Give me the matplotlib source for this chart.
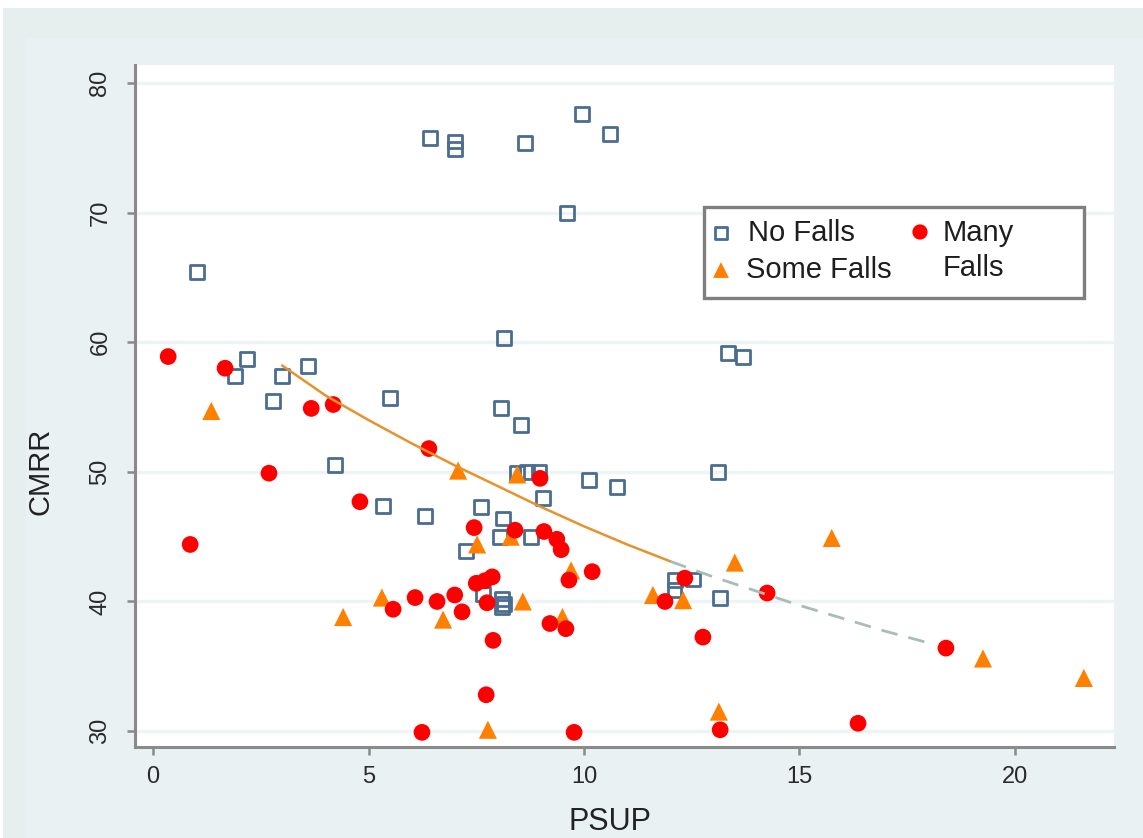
import matplotlib
matplotlib.use("Agg")
import matplotlib.pyplot as plt
from matplotlib.patches import Rectangle

# ---------------- data ----------------
no_falls_x = [1.02, 1.9, 2.18, 2.78, 3.0, 3.6, 4.22, 5.5, 5.34, 6.31, 6.43, 7.0, 7.0,
              7.26, 7.61, 8.64, 9.95, 10.6, 9.6, 8.14, 8.07, 8.54, 8.45, 8.68, 8.96,
              10.12, 10.77, 9.05, 8.12, 8.05, 8.77, 8.1, 8.15, 8.1, 7.65,
              12.11, 12.53, 12.1, 13.16, 13.11, 13.34, 13.69]
no_falls_y = [65.4, 57.4, 58.7, 55.5, 57.4, 58.2, 50.5, 55.7, 47.4, 46.6, 75.8, 75.5, 74.9,
              43.9, 47.3, 75.4, 77.6, 76.1, 70.0, 60.3, 54.9, 53.6, 49.9, 50.0, 50.0,
              49.4, 48.8, 48.0, 46.4, 45.0, 45.0, 40.2, 39.8, 39.6, 40.6,
              41.65, 41.7, 40.9, 40.25, 50.0, 59.2, 58.9]

some_falls_x = [1.35, 4.41, 5.31, 6.73, 7.08, 7.52, 7.77, 8.3, 8.45, 8.58, 9.5, 9.7,
                11.6, 12.3, 13.13, 13.5, 15.75, 19.26, 21.6]
some_falls_y = [54.7, 38.8, 40.3, 38.6, 50.1, 44.4, 30.1, 45.0, 49.8, 40.0, 38.8, 42.4,
                40.5, 40.1, 31.5, 43.0, 44.9, 35.6, 34.1]

many_falls_x = [0.35, 0.86, 1.67, 2.69, 3.67, 4.18, 4.8, 5.57, 6.08, 6.24, 6.40, 6.59,
                7.0, 7.17, 7.45, 7.5, 7.7, 7.87, 7.73, 7.75, 7.89, 8.40, 8.98, 9.07,
                9.21, 9.37, 9.47, 9.58, 9.65, 9.77, 10.19, 11.88, 12.34, 12.76, 13.16,
                14.25, 16.36, 18.4]
many_falls_y = [58.9, 44.4, 58.0, 49.9, 54.9, 55.2, 47.7, 39.4, 40.3, 29.9, 51.8, 40.0,
                40.5, 39.2, 45.7, 41.4, 41.6, 41.9, 32.8, 39.9, 37.0, 45.5, 49.5, 45.4,
                38.3, 44.8, 44.0, 37.9, 41.65, 29.9, 42.3, 40.0, 41.8, 37.25, 30.1,
                40.65, 30.6, 36.4]

# fitted curve
fit_solid_x = [3, 4, 5, 6, 7, 8, 9, 10, 11, 12]
fit_solid_y = [58.2, 55.9, 54.0, 52.2, 50.5, 48.9, 47.3, 45.8, 44.4, 43.1]
fit_dash_x = [12, 13, 14, 15, 16, 17, 18]
fit_dash_y = [43.1, 41.9, 40.8, 39.7, 38.7, 37.7, 36.8]

x_ticks = [0, 5, 10, 15, 20]
y_ticks = [30, 40, 50, 60, 70, 80]
legend_labels = ["No Falls", "Some Falls", "Many", "Falls"]

# ---------------- figure ----------------
W, H = 1143, 838
fig = plt.figure(figsize=(W / 100, H / 100), dpi=100, facecolor="white")

def fx(px):
    return px / W

def fy(py):
    return 1 - py / H

# background bands
fig.patches.append(Rectangle((fx(3), 0), 1 - fx(3), fy(8), transform=fig.transFigure,
                             facecolor="#e6efee", edgecolor="none", zorder=-3))
fig.patches.append(Rectangle((fx(26), 0), 1 - fx(26), fy(38), transform=fig.transFigure,
                             facecolor="#e9f1f2", edgecolor="none", zorder=-2))

L, R, T, B = 135, 1114, 65, 747
ax = fig.add_axes([fx(L), fy(B), fx(R) - fx(L), fy(T) - fy(B)])
ax.set_facecolor("white")
ax.set_xlim(-0.42, 22.3)
ax.set_ylim(28.77, 81.4)

for s in ["top", "right"]:
    ax.spines[s].set_visible(False)
for s in ["left", "bottom"]:
    ax.spines[s].set_color("#8a8a8a")
    ax.spines[s].set_linewidth(2.2)

def axx(px):
    return (px - L) / (R - L)

def axy(py):
    return (B - py) / (B - T)

ax.set_xticks(x_ticks)
ax.set_yticks(y_ticks)
tick_font = "Liberation Sans"
ax.set_xticklabels([str(v) for v in x_ticks], fontsize=17, family=tick_font, color="#2a2a2a")
ax.set_yticklabels([str(v) for v in y_ticks], fontsize=17, family=tick_font, color="#2a2a2a",
                   rotation=90, va="center")
ax.tick_params(axis="both", length=6, width=1.8, color="#8a8a8a")
ax.tick_params(axis="y", pad=11)
ax.tick_params(axis="x", pad=8)
ax.yaxis.grid(True, color="#eef4f5", linewidth=2.5)
ax.set_axisbelow(True)

ax.set_xlabel("PSUP", fontsize=22, family="Liberation Sans", color="#222222")
ax.xaxis.set_label_coords(axx(610), axy(807))
ax.set_ylabel("CMRR", fontsize=21, family="Liberation Sans", color="#222222")
ax.yaxis.set_label_coords(axx(54), axy(471))

sq_col = "#4a6d91"
tri_col = "#ff7f00"
red_col = "#ff0000"

ax.scatter(no_falls_x, no_falls_y, marker="s", s=100, facecolors="none",
           edgecolors=sq_col, linewidths=2.0, zorder=3)
ax.scatter(some_falls_x, some_falls_y, marker="^", s=170, color=tri_col,
           edgecolors="none", zorder=3)
ax.scatter(many_falls_x, many_falls_y, marker="o", s=145, color=red_col,
           edgecolors="none", zorder=3)

ax.plot(fit_solid_x, fit_solid_y, color="#e8922c", linewidth=1.8, zorder=4)
ax.plot(fit_dash_x, fit_dash_y, color="#a9bdb6", linewidth=2.0, zorder=4,
        dashes=(6, 4))

# legend (manual)
ax.add_patch(Rectangle((axx(704), axy(298)), axx(1084) - axx(704), axy(207) - axy(298),
                       transform=ax.transAxes, facecolor="white", edgecolor="#7f7f7f",
                       linewidth=2.4, zorder=6, clip_on=False))
ax.scatter([axx(721)], [axy(233)], marker="s", s=80, facecolors="none", edgecolors=sq_col,
           linewidths=2.0, transform=ax.transAxes, zorder=7, clip_on=False)
ax.scatter([axx(721)], [axy(270)], marker="^", s=130, color=tri_col, edgecolors="none",
           transform=ax.transAxes, zorder=7, clip_on=False)
ax.scatter([axx(920)], [axy(232)], marker="o", s=120, color=red_col, edgecolors="none",
           transform=ax.transAxes, zorder=7, clip_on=False)
leg_font = dict(fontsize=21, family="Liberation Sans", color="#1e1e1e", va="center",
                ha="left", transform=ax.transAxes, zorder=8)
ax.text(axx(748), axy(233), legend_labels[0], **leg_font)
ax.text(axx(746), axy(270), legend_labels[1], **leg_font)
ax.text(axx(943), axy(233), legend_labels[2], **leg_font)
ax.text(axx(943), axy(268), legend_labels[3], **leg_font)

fig.savefig("out.png", dpi=100, facecolor=fig.get_facecolor())
